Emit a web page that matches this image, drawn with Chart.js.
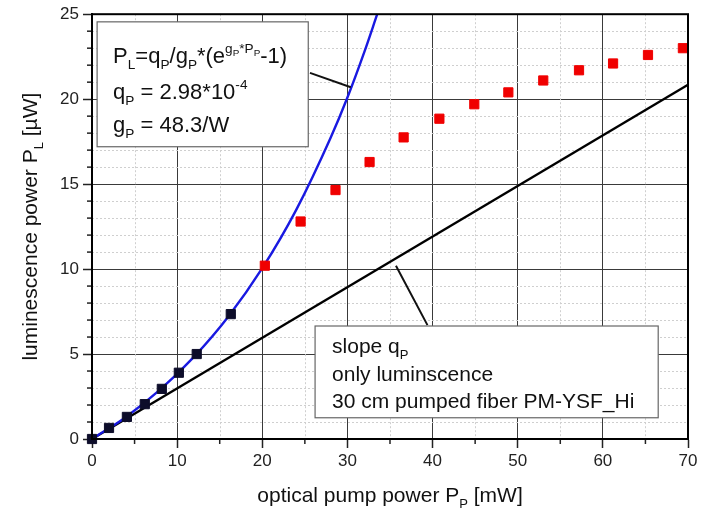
<!DOCTYPE html>
<html>
<head>
<meta charset="utf-8">
<script src="https://cdn.jsdelivr.net/npm/chart.js@4.4.1/dist/chart.umd.min.js"></script>
<style>
  html, body { margin: 0; padding: 0; background: #fff; }
</style>
</head>
<body>
<canvas id="myChart-Lumi" width="701" height="511"></canvas>
<script>
// measured points, low pump (black squares)
const pumpLow = [0, 2.0, 4.1, 6.2, 8.2, 10.2, 12.3, 16.3];
const lumiLow = [0, 0.65, 1.3, 2.05, 2.95, 3.9, 5.0, 7.35];

// measured points, high pump (red squares)
const pumpHigh = [20.3, 24.5, 28.6, 32.6, 36.6, 40.8, 44.9, 48.9, 53.0, 57.2, 61.2, 65.3, 69.4];
const lumiHigh = [10.2, 12.8, 14.65, 16.3, 17.75, 18.85, 19.7, 20.4, 21.1, 21.7, 22.1, 22.6, 23.0];

// fit curve (blue)
const pumpFit = [0, 4, 8, 12, 16, 20, 24, 28, 30, 32, 33.5];
const lumiFit = [0, 1.3, 2.9, 4.85, 7.2, 10.05, 13.5, 17.7, 20.1, 22.8, 25.0];

// slope q_P line (black)
const pumpSlope = [0, 70];
const lumiSlope = [0, 20.85];

const xRange = [0, 70];
const yRange = [0, 25];

const FONT = "'Liberation Sans', Arial, sans-serif";

function pairs(xs, ys) {
  return xs.map((x, i) => ({ x: x, y: ys[i] }));
}

// draws text made of pieces: n = normal, sub, sup, supsub
function richText(ctx, x, y, parts, size) {
  let cx = x;
  parts.forEach(p => {
    let fs = size, dy = 0;
    if (p[1] === 'sub') { fs = size * 0.62; dy = size * 0.28; }
    if (p[1] === 'sup') { fs = size * 0.62; dy = -size * 0.45; }
    if (p[1] === 'supsub') { fs = size * 0.45; dy = -size * 0.3; }
    ctx.font = fs + 'px ' + FONT;
    ctx.fillText(p[0], cx, y + dy);
    cx += ctx.measureText(p[0]).width;
  });
  return cx - x;
}

function textWidth(ctx, parts, size) {
  let w = 0;
  parts.forEach(p => {
    let fs = size;
    if (p[1] === 'sub' || p[1] === 'sup') fs = size * 0.62;
    if (p[1] === 'supsub') fs = size * 0.45;
    ctx.font = fs + 'px ' + FONT;
    w += ctx.measureText(p[0]).width;
  });
  return w;
}

const minorGrid = {
  id: 'minorGrid',
  beforeDatasetsDraw(chart) {
    const { ctx, chartArea: a, scales: { x, y } } = chart;
    ctx.save();
    ctx.strokeStyle = '#cfcfcf';
    ctx.lineWidth = 1;
    ctx.setLineDash([2, 2]);
    for (let v = 5; v < 70; v += 10) {
      const px = Math.round(x.getPixelForValue(v)) + 0.5;
      ctx.beginPath(); ctx.moveTo(px, a.top); ctx.lineTo(px, a.bottom); ctx.stroke();
    }
    for (let v = 1; v < 25; v++) {
      if (v % 5 === 0) continue;
      const py = Math.round(y.getPixelForValue(v)) + 0.5;
      ctx.beginPath(); ctx.moveTo(a.left, py); ctx.lineTo(a.right, py); ctx.stroke();
    }
    ctx.setLineDash([]);
    ctx.strokeStyle = '#222';
    ctx.lineWidth = 1.5;
    for (let v = 5; v < 70; v += 10) {
      const px = x.getPixelForValue(v);
      ctx.beginPath(); ctx.moveTo(px, a.bottom); ctx.lineTo(px, a.bottom + 5); ctx.stroke();
    }
    for (let v = 1; v < 25; v++) {
      if (v % 5 === 0) continue;
      const py = y.getPixelForValue(v);
      ctx.beginPath(); ctx.moveTo(a.left - 5, py); ctx.lineTo(a.left, py); ctx.stroke();
    }
    ctx.restore();
  }
};

const notes = {
  id: 'notes',
  afterDatasetsDraw(chart) {
    const { ctx, chartArea: a, scales: { x, y } } = chart;
    ctx.save();
    // frame
    ctx.strokeStyle = '#000';
    ctx.lineWidth = 2;
    ctx.strokeRect(a.left, a.top, a.right - a.left, a.bottom - a.top);

    // pointer lines
    ctx.lineWidth = 2;
    ctx.strokeStyle = '#111';
    ctx.beginPath();
    ctx.moveTo(x.getPixelForValue(25.6), y.getPixelForValue(21.55));
    ctx.lineTo(x.getPixelForValue(30.4), y.getPixelForValue(20.7));
    ctx.moveTo(x.getPixelForValue(39.4), y.getPixelForValue(6.7));
    ctx.lineTo(x.getPixelForValue(35.7), y.getPixelForValue(10.2));
    ctx.stroke();

    // box 1: fit formula
    ctx.lineWidth = 1.2;
    ctx.strokeStyle = '#666';
    ctx.fillStyle = '#fff';
    let l = x.getPixelForValue(0.6), r = x.getPixelForValue(25.4);
    let t = y.getPixelForValue(24.55), b = y.getPixelForValue(17.2);
    ctx.fillRect(l, t, r - l, b - t);
    ctx.strokeRect(l, t, r - l, b - t);
    ctx.fillStyle = '#111';
    ctx.textBaseline = 'alphabetic';
    ctx.textAlign = 'left';
    const f1 = 22;
    richText(ctx, l + 16, t + 41, [['P', 'n'], ['L', 'sub'], ['=q', 'n'], ['P', 'sub'], ['/g', 'n'], ['P', 'sub'],
      ['*(e', 'n'], ['g', 'sup'], ['P', 'supsub'], ['*P', 'sup'], ['P', 'supsub'], ['-1)', 'n']], f1);
    richText(ctx, l + 16, t + 77, [['q', 'n'], ['P', 'sub'], [' = 2.98*10', 'n'], ['-4', 'sup']], f1);
    richText(ctx, l + 16, t + 110, [['g', 'n'], ['P', 'sub'], [' = 48.3/W', 'n']], f1);

    // box 2: slope line
    ctx.lineWidth = 1.2;
    ctx.strokeStyle = '#666';
    ctx.fillStyle = '#fff';
    l = x.getPixelForValue(26.2); r = x.getPixelForValue(66.5);
    t = y.getPixelForValue(6.65); b = y.getPixelForValue(1.25);
    ctx.fillRect(l, t, r - l, b - t);
    ctx.strokeRect(l, t, r - l, b - t);
    ctx.fillStyle = '#111';
    const f2 = 21;
    richText(ctx, l + 17, t + 27, [['slope q', 'n'], ['P', 'sub']], f2);
    richText(ctx, l + 17, t + 55, [['only luminscence', 'n']], f2);
    richText(ctx, l + 17, t + 82, [['30 cm pumped fiber PM-YSF_Hi', 'n']], f2);

    ctx.restore();
  },
  afterDraw(chart) {
    const { ctx, chartArea: a } = chart;
    ctx.save();
    ctx.fillStyle = '#111';
    ctx.textBaseline = 'alphabetic';
    const ft = 21;
    // x title
    const xParts = [['optical pump power P', 'n'], ['P', 'sub'], [' [mW]', 'n']];
    const xw = textWidth(ctx, xParts, ft);
    richText(ctx, (a.left + a.right) / 2 - xw / 2, 502, xParts, ft);
    // y title
    const yParts = [['luminescence power P', 'n'], ['L', 'sub'], [' [\u00b5W]', 'n']];
    const yw = textWidth(ctx, yParts, ft);
    ctx.translate(37, (a.top + a.bottom) / 2);
    ctx.rotate(-Math.PI / 2);
    richText(ctx, -yw / 2, 0, yParts, ft);
    ctx.restore();
  }
};

const lumiChart = document.getElementById('myChart-Lumi');

new Chart(lumiChart, {
  type: 'scatter',
  data: {
    datasets: [
      {
        label: 'measured low',
        data: pairs(pumpLow, lumiLow),
        pointStyle: 'rect',
        pointRadius: 6.5,
        backgroundColor: '#0d0d2a',
        borderColor: '#0d0d2a',
        borderWidth: 1,
        order: 1
      },
      {
        label: 'measured high',
        data: pairs(pumpHigh, lumiHigh),
        pointStyle: 'rect',
        pointRadius: 6.5,
        backgroundColor: 'rgb(240, 0, 0)',
        borderColor: 'rgb(240, 0, 0)',
        borderWidth: 1,
        order: 2
      },
      {
        type: 'line',
        label: 'fit',
        data: pairs(pumpFit, lumiFit),
        borderColor: 'rgb(25, 25, 225)',
        borderWidth: 2.4,
        pointRadius: 0,
        fill: false,
        cubicInterpolationMode: 'monotone',
        order: 3
      },
      {
        type: 'line',
        label: 'slope',
        data: pairs(pumpSlope, lumiSlope),
        borderColor: '#000',
        borderWidth: 2.4,
        pointRadius: 0,
        fill: false,
        order: 4
      }
    ]
  },
  options: {
    responsive: false,
    animation: false,
    clip: false,
    layout: { padding: { top: 14, right: 13, left: 0, bottom: 0 } },
    plugins: {
      legend: { display: false },
      tooltip: { enabled: false }
    },
    scales: {
      x: {
        type: 'linear',
        min: xRange[0],
        max: xRange[1],
        afterFit: s => { s.height = 72; },
        ticks: { stepSize: 10, color: '#222', font: { family: FONT, size: 17 }, padding: 3, maxRotation: 0 },
        grid: { color: '#3a3a3a', lineWidth: 1, tickLength: 9, tickColor: '#222', tickWidth: 1.5 },
        border: { display: true, color: '#000', width: 2 }
      },
      y: {
        min: yRange[0],
        max: yRange[1],
        afterFit: s => { s.width = 92; },
        ticks: { stepSize: 5, color: '#222', font: { family: FONT, size: 17 }, padding: 4 },
        grid: { color: '#3a3a3a', lineWidth: 1, tickLength: 9, tickColor: '#222', tickWidth: 1.5 },
        border: { display: true, color: '#000', width: 2 }
      }
    }
  },
  plugins: [minorGrid, notes]
});
</script>
</body>
</html>
